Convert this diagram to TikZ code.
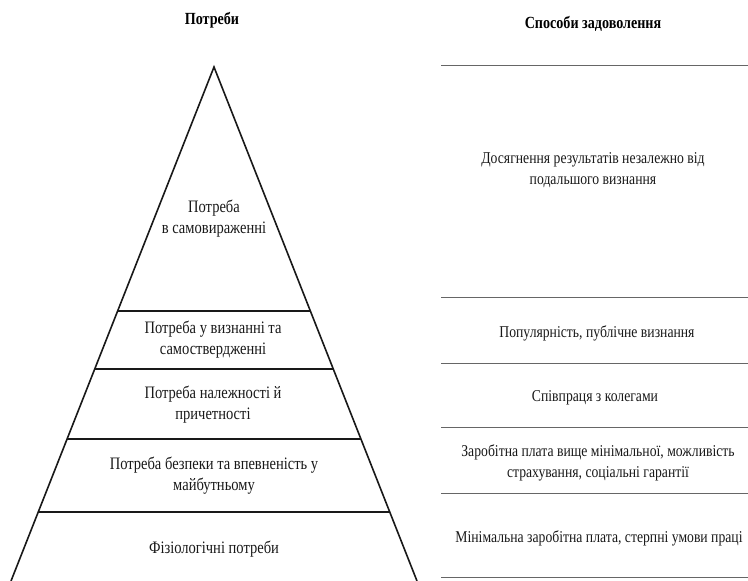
\documentclass[tikz,border=0pt]{standalone}
\usepackage{fontspec}
\setmainfont[FakeStretch=0.83]{Liberation Serif}
\begin{document}
\begin{tikzpicture}[x=1pt,y=-1pt,
  pyr/.style={line width=1.6pt,black!90},
  rline/.style={line width=1pt,black!60},
  txt/.style={font=\fontsize{17.5}{21}\selectfont,align=center,text=black!90,inner sep=0pt},
  rtxt/.style={font=\fontsize{16.5}{20.5}\selectfont,align=center,text=black!90,inner sep=0pt},
  hdr/.style={font=\fontsize{17}{20}\selectfont\bfseries,inner sep=0pt}]
\useasboundingbox (0,0) rectangle (748,581);
% pyramid
\coordinate (A) at (214,67);
\coordinate (BL) at (11,581);
\coordinate (BR) at (417,581);
\draw[pyr,line join=miter] (BL) -- (A) -- (BR);
\coordinate (L1) at (117.6,311); \coordinate (R1) at (310.4,311);
\coordinate (L2) at (94.7,369);  \coordinate (R2) at (333.3,369);
\coordinate (L3) at (67.1,439);  \coordinate (R3) at (360.9,439);
\coordinate (L4) at (38.2,512);  \coordinate (R4) at (389.8,512);
\draw[pyr] (L1) -- (R1);
\draw[pyr] (L2) -- (R2);
\draw[pyr] (L3) -- (R3);
\draw[pyr] (L4) -- (R4);
% right lines
\coordinate (a0) at (441,65);  \coordinate (b0) at (748,65);
\coordinate (a1) at (441,297); \coordinate (b1) at (748,297);
\coordinate (a2) at (441,363); \coordinate (b2) at (748,363);
\coordinate (a3) at (441,427); \coordinate (b3) at (748,427);
\coordinate (a4) at (441,493); \coordinate (b4) at (748,493);
\coordinate (a5) at (441,577); \coordinate (b5) at (748,577);
\foreach \i in {0,...,5} {\draw[rline] (a\i) -- (b\i);}
% headers
\node[hdr] (h1) at (212,20) {Потреби};
\node[hdr] (h2) at (593,24) {Способи задоволення};
% pyramid texts
\node[txt] (p1) at (214,219) {Потреба\\в самовираженні};
\node[txt] (p2) at (213,340) {Потреба у визнанні та\\самоствердженні};
\node[txt] (p3) at (213,405) {Потреба належності й\\причетності};
\node[txt] (p4) at (214,476) {Потреба безпеки та впевненість у\\майбутньому};
\node[txt] (p5) at (214,549) {Фізіологічні потреби};
% right texts
\node[rtxt] (s1) at (593,170) {Досягнення результатів незалежно від\\подальшого визнання};
\node[rtxt] (s2) at (597,333) {Популярність, публічне визнання};
\node[rtxt] (s3) at (595,398) {Співпраця з колегами};
\node[rtxt] (s4) at (598,463) {Заробітна плата вище мінімальної, можливість\\страхування, соціальні гарантії};
\node[rtxt] (s5) at (599,538) {Мінімальна заробітна плата, стерпні умови праці};
\end{tikzpicture}
\end{document}
